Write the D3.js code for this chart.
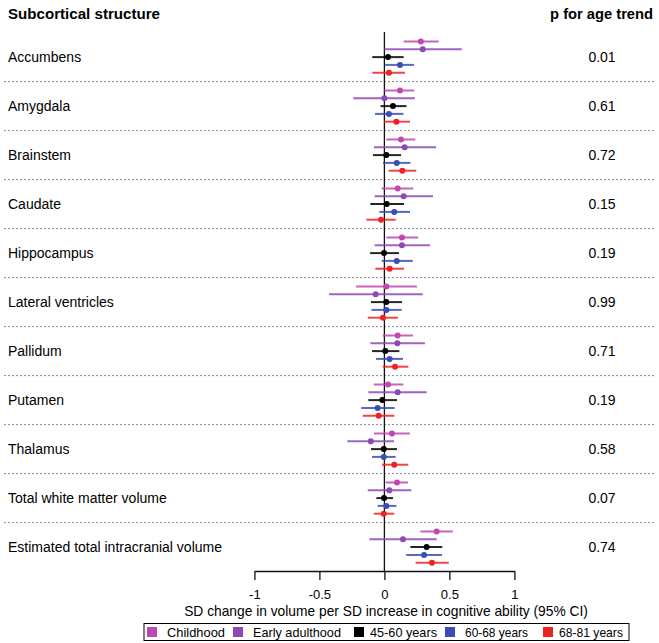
<!DOCTYPE html>
<html><head><meta charset="utf-8">
<script src="https://cdn.jsdelivr.net/npm/d3@7"></script>
<style>body{margin:0;background:#fff;} svg{display:block;font-family:"Liberation Sans",Arial,sans-serif;}</style>
</head><body>
<script>
const structures = ["Accumbens","Amygdala","Brainstem","Caudate","Hippocampus","Lateral ventricles","Pallidum","Putamen","Thalamus","Total white matter volume","Estimated total intracranial volume"];
const pTrend = ["0.01","0.61","0.72","0.15","0.19","0.99","0.71","0.19","0.58","0.07","0.74"];
const seriesNames = ["Childhood","Early adulthood","45-60 years","60-68 years","68-81 years"];
const seriesColors = ["#c048b0","#8e48b8","#000000","#3a4cb8","#ee2222"];
// [estimate, lower, upper] per structure
const childhood = [[0.28,0.148,0.418],[0.12,0.0,0.23],[0.128,0.015,0.238],[0.102,-0.021,0.222],[0.135,0.015,0.26],[0.015,-0.218,0.25],[0.102,-0.013,0.22],[0.028,-0.082,0.146],[0.058,-0.08,0.195],[0.097,0.01,0.182],[0.402,0.276,0.525]];
const earlyAdult = [[0.295,0.0,0.595],[0.0,-0.24,0.235],[0.156,-0.08,0.397],[0.148,-0.075,0.374],[0.135,-0.075,0.35],[-0.067,-0.426,0.295],[0.1,-0.108,0.312],[0.102,-0.124,0.325],[-0.105,-0.285,0.074],[0.038,-0.128,0.207],[0.143,-0.116,0.402]];
const age45 = [[0.028,-0.093,0.148],[0.066,-0.03,0.17],[0.015,-0.088,0.128],[0.018,-0.108,0.151],[-0.003,-0.11,0.112],[0.015,-0.103,0.135],[0.007,-0.095,0.115],[-0.016,-0.124,0.097],[-0.005,-0.103,0.097],[-0.003,-0.062,0.066],[0.325,0.2,0.445]];
const age60 = [[0.12,0.007,0.228],[0.035,-0.072,0.146],[0.095,-0.011,0.2],[0.076,-0.039,0.197],[0.095,-0.021,0.218],[0.015,-0.1,0.133],[0.04,-0.065,0.143],[-0.052,-0.178,0.079],[-0.005,-0.095,0.087],[0.015,-0.052,0.092],[0.305,0.168,0.443]];
const age68 = [[0.035,-0.093,0.158],[0.092,-0.003,0.197],[0.138,0.033,0.245],[-0.026,-0.139,0.087],[0.04,-0.07,0.151],[-0.011,-0.128,0.105],[0.082,-0.013,0.184],[-0.044,-0.167,0.076],[0.076,-0.018,0.184],[-0.005,-0.082,0.076],[0.366,0.24,0.495]];
const tickValues = [-1,-0.5,0,0.5,1];
const tickLabels = ["-1","-0.5","0","0.5","1"];

const allSeries = [childhood, earlyAdult, age45, age60, age68];
const W = 659, H = 643;
const svg = d3.select("body").append("svg").attr("width", W).attr("height", H);

// scale a text element's font size so its rendered width matches a target width
function fit(sel, target){
  const fs = +sel.attr("font-size");
  const w = sel.node().getComputedTextLength();
  if (w > 0) sel.attr("font-size", (fs*target/w).toFixed(2));
  return sel;
}

const x = d3.scaleLinear().domain([-1,1]).range([254.4,514.4]);
const yBand = d3.scaleBand().domain(structures).range([32.6,571.6]);
const yInner = d3.scalePoint().domain(seriesNames).range([-15.6,15.6]);
const axisY = 571;

// headers
fit(svg.append("text").attr("x",8).attr("y",19).attr("font-size",14).attr("font-weight","bold").text("Subcortical structure"), 152);
fit(svg.append("text").attr("x",653).attr("y",19).attr("font-size",14).attr("font-weight","bold").attr("text-anchor","end").text("p for age trend"), 103);

// separators
structures.slice(0,-1).forEach(s=>{
  const yy = yBand(s)+yBand.bandwidth();
  svg.append("line").attr("x1",4).attr("x2",655).attr("y1",yy).attr("y2",yy)
    .attr("stroke","#888").attr("stroke-width",1).attr("stroke-dasharray","2,2");
});

// labels and p
structures.forEach((s,i)=>{
  const cy = yBand(s)+yBand.bandwidth()/2;
  svg.append("text").attr("x",8).attr("y",cy).attr("dy","0.35em").attr("font-size",14).text(s);
  svg.append("text").attr("x",602).attr("y",cy).attr("dy","0.35em").attr("font-size",14).attr("text-anchor","middle").text(pTrend[i]);
});

// zero line
svg.append("line").attr("x1",x(0)).attr("x2",x(0)).attr("y1",32).attr("y2",axisY).attr("stroke","#111").attr("stroke-width",1.3);

// marks
allSeries.forEach((data,j)=>{
  const g = svg.append("g");
  const col = seriesColors[j];
  data.forEach((d,i)=>{
    const cy = yBand(structures[i])+yBand.bandwidth()/2+yInner(seriesNames[j]);
    g.append("line").attr("x1",x(d[1])).attr("x2",x(d[2])).attr("y1",cy).attr("y2",cy)
      .attr("stroke",col).attr("stroke-width",2).attr("stroke-opacity",0.85);
    g.append("circle").attr("cx",x(d[0])).attr("cy",cy).attr("r",3).attr("fill",col);
  });
});

// axis
const axis = d3.axisBottom(x).tickValues(tickValues).tickFormat((d,i)=>tickLabels[i]).tickSize(9).tickSizeOuter(0);
const ag = svg.append("g").attr("transform",`translate(0,${axisY})`).call(axis);
ag.select(".domain").attr("stroke","#111").attr("stroke-width",1.3);
ag.selectAll(".tick line").attr("stroke","#111").attr("stroke-width",1.3);
ag.selectAll(".tick text").attr("font-size",13).attr("font-family","Liberation Sans, Arial, sans-serif").attr("dy",0).attr("y",28).attr("fill","#000");

fit(svg.append("text").attr("x",386).attr("y",615.5).attr("font-size",14).attr("text-anchor","middle")
  .text("SD change in volume per SD increase in cognitive ability (95% CI)"), 404);

// legend
const lg = svg.append("g");
lg.append("rect").attr("x",144).attr("y",623.5).attr("width",485).attr("height",17).attr("fill","#fff").attr("stroke","#000").attr("stroke-width",1);
const legSw = [147, 233, 354, 445, 543];
const legTx = [167, 253, 370, 465, 559];
const legW = [58, 88, 67, 63, 64];
seriesNames.forEach((n,j)=>{
  lg.append("rect").attr("x",legSw[j]).attr("y",627).attr("width",10).attr("height",10).attr("fill",seriesColors[j]);
  fit(lg.append("text").attr("x",legTx[j]).attr("y",637).attr("font-size",14).text(n), legW[j]);
});
</script>
</body></html>
